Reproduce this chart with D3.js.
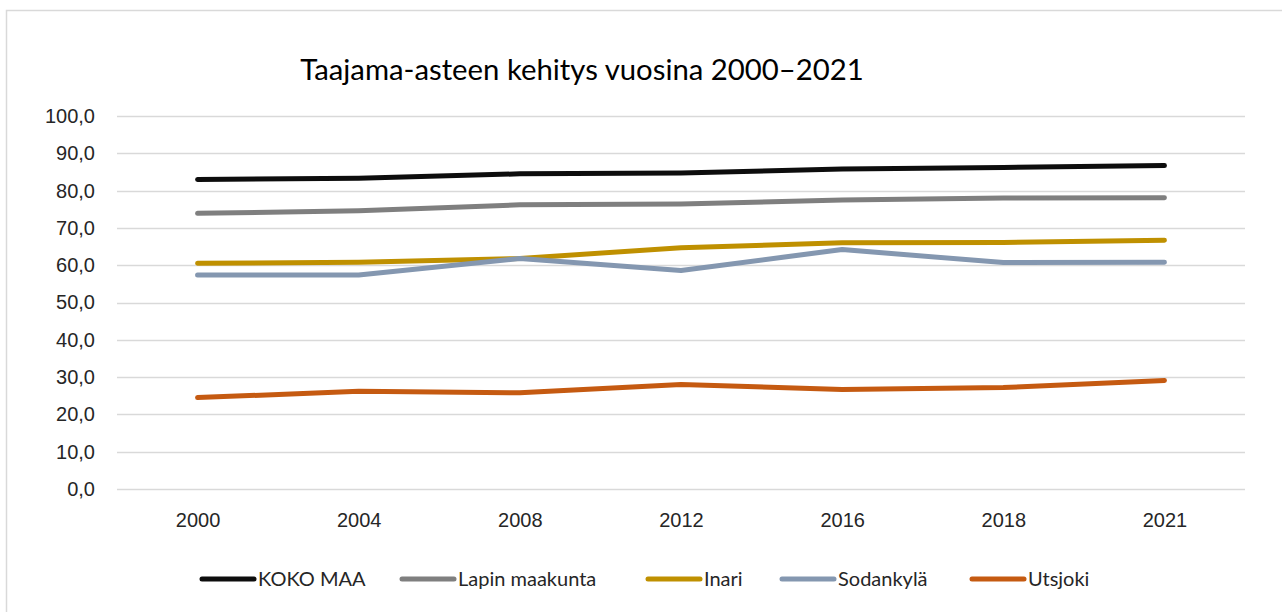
<!DOCTYPE html>
<html>
<head>
<meta charset="UTF-8">
<style>
body { margin: 0; background: #fff; }
svg { font-family: Lato, "Open Sans", sans-serif; }
.grid line { stroke: #d9d9d9; stroke-width: 1.3px; }
.series { fill: none; stroke-width: 5px; stroke-linecap: round; stroke-linejoin: round; }
.tick-label { font-size: 20px; fill: #262626; }
</style>
</head>
<body>
<svg class="chart"></svg>
<script src="https://d3js.org/d3.v7.min.js"></script>
<script>

// Data
var years = ["2000", "2004", "2008", "2012", "2016", "2018", "2021"];
var kokoMaa   = [83.0, 83.3, 84.5, 84.7, 85.8, 86.2, 86.7];
var lapin     = [73.9, 74.6, 76.2, 76.4, 77.5, 78.0, 78.1];
var inari     = [60.5, 60.8, 61.8, 64.7, 66.0, 66.1, 66.7];
var sodankyla = [57.4, 57.4, 61.8, 58.6, 64.2, 60.7, 60.8];
var utsjoki   = [24.5, 26.2, 25.8, 28.0, 26.7, 27.2, 29.1];
var seriesNames = ["KOKO MAA", "Lapin maakunta", "Inari", "Sodankylä", "Utsjoki"];
var yTicks = [0, 10, 20, 30, 40, 50, 60, 70, 80, 90, 100];
var title = "Taajama-asteen kehitys vuosina 2000–2021";

var seriesValues = [kokoMaa, lapin, inari, sodankyla, utsjoki];
var colors = ["#0d0d0d", "#7f7f7f", "#bf9000", "#8497b0", "#c55a11"];

var W = 1282, H = 612;
var svg = d3.select(".chart").attr("width", W).attr("height", H);

// outer chart frame
svg.append("rect")
    .attr("x", 6.5).attr("y", 10.5)
    .attr("width", 1300).attr("height", 640)
    .attr("fill", "#fff")
    .attr("stroke", "#d9d9d9")
    .attr("stroke-width", 1.5);

var plot = {left: 117, right: 1245, top: 116, bottom: 489};

var x = d3.scalePoint().domain(years).range([plot.left, plot.right]).padding(0.5);
var y = d3.scaleLinear().domain([0, 100]).range([plot.bottom, plot.top]);

// title
svg.append("text")
    .attr("x", 582).attr("y", 80)
    .attr("text-anchor", "middle")
    .attr("font-size", 29.3)
    .attr("fill", "#000")
    .text(title);

// gridlines
svg.append("g").attr("class", "grid")
  .selectAll("line").data(yTicks).join("line")
    .attr("x1", plot.left).attr("x2", plot.right)
    .attr("y1", function(d) { return Math.round(y(d)) + 0.5; })
    .attr("y2", function(d) { return Math.round(y(d)) + 0.5; });

// y axis labels
var fmt = function(d) { return d3.format(".1f")(d).replace(".", ","); };
var yAxis = svg.append("g")
    .attr("transform", "translate(" + plot.left + ",0)")
    .call(d3.axisLeft(y).tickValues(yTicks).tickFormat(fmt).tickSize(0).tickPadding(22));
yAxis.select(".domain").remove();
yAxis.selectAll("text").attr("class", "tick-label").attr("font-family", null).attr("font-size", null);

// x axis labels
var xAxis = svg.append("g")
    .attr("transform", "translate(0," + plot.bottom + ")")
    .call(d3.axisBottom(x).tickSize(0).tickPadding(24));
xAxis.select(".domain").remove();
xAxis.selectAll("text").attr("class", "tick-label").attr("font-family", null).attr("font-size", null);

// lines
var line = d3.line()
    .x(function(d, i) { return x(years[i]); })
    .y(function(d) { return y(d); });

svg.selectAll("path.series").data(seriesValues).join("path")
    .attr("class", "series")
    .attr("stroke", function(d, i) { return colors[i]; })
    .attr("d", line);

// legend: aim for the original slot starts, but never overlap the previous entry
var legendX = [202, 402, 648, 782, 972];
var legend = svg.append("g").attr("transform", "translate(0,579)");
var items = legend.selectAll("g").data(seriesNames).join("g");
items.append("line")
    .attr("x1", 0).attr("x2", 52)
    .attr("stroke", function(d, i) { return colors[i]; })
    .attr("stroke-width", 5)
    .attr("stroke-linecap", "round");
items.append("text")
    .attr("x", 56).attr("dy", "0.35em")
    .attr("class", "tick-label")
    .text(function(d) { return d; });

var end = 0;
items.each(function(d, i) {
  var g = d3.select(this);
  var p = Math.max(legendX[i], end + 30);
  g.attr("transform", "translate(" + p + ",0)");
  end = p + 56 + g.select("text").node().getComputedTextLength();
});

</script>
</body>
</html>
